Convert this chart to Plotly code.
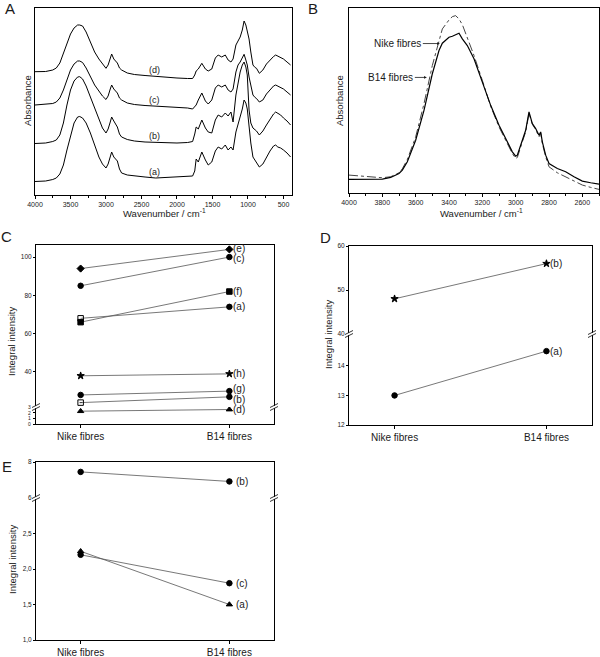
import plotly.graph_objects as go

W, H = 600, 657


def px_x(a):
    return a / W


def px_y(b):
    return 1 - b / H


FONT = "Arial, Liberation Sans, sans-serif"
INK = "#1a1a1a"

# ---------------- Panel A : FTIR spectra (offset), arbitrary absorbance ----------------
wn_A = [4000, 3850, 3750, 3700, 3650, 3600, 3550, 3500, 3450, 3400,
        3370, 3330, 3280, 3220, 3160, 3100, 3050, 3000, 2970, 2940,
        2920, 2890, 2860, 2840, 2810, 2780, 2700, 2600, 2450, 2300,
        2150, 2000, 1850, 1780, 1750, 1730, 1700, 1650, 1600, 1560,
        1510, 1460, 1420, 1370, 1320, 1280, 1240, 1210, 1170, 1140,
        1110, 1080, 1055, 1030, 1010, 985, 960, 930, 900, 880,
        840, 790, 740, 690, 640, 610, 580, 540, 500, 450,
        400]
abs_a = [13.5, 14, 15.5, 17, 21, 30, 45, 60, 72, 78,
         78.5, 77, 72, 62, 50, 38, 31, 27, 31, 38,
         43, 38, 36, 34, 26, 22, 20, 19, 18, 17,
         17.5, 18.5, 18.5, 19, 24, 36, 33, 43, 35, 30,
         33, 44, 48, 46, 50, 45, 48, 45, 63, 70,
         78, 86, 95, 92, 86, 68, 52, 38, 35, 33,
         28, 31, 38, 44, 49, 50, 48, 47, 45, 42,
         38]
abs_b = [51.5, 52, 53.5, 55, 60, 72, 90, 105, 114, 118,
         118.3, 116, 109, 98, 86, 76, 67, 62, 66, 73,
         78, 74, 70, 68, 61, 58, 55.5, 54, 53, 52.5,
         52.5, 52, 52.5, 53.5, 61, 68, 66, 75, 67, 63,
         62, 75, 80, 78, 82, 79, 83, 73, 100, 112,
         123, 130, 133, 128, 120, 85, 72, 67, 65, 64,
         60, 64, 70, 76, 81, 83, 82, 80, 77, 74,
         70]
abs_c = [90, 90.5, 91.5, 93, 97, 105, 116, 125, 131, 134,
         134, 132.5, 127, 118, 110, 104, 99, 95.5, 99, 106,
         110, 106, 104, 102, 97, 95, 92, 90.5, 89.5, 89,
         88.5, 88, 87, 86, 88, 90, 95, 102, 94, 91,
         95, 107, 110, 108, 110, 105, 103, 106, 123, 130,
         133, 137, 140.7, 135, 130, 118, 110, 100, 97.5, 96.5,
         93, 95, 101, 105, 109, 110, 109, 108, 106, 103,
         100]
abs_d = [123.3, 123.5, 125, 127, 132, 142, 153, 161, 167, 170,
         170, 169, 163, 153, 143, 136, 131, 126.7, 130, 137,
         141, 136, 134, 132, 127, 125, 122, 120.5, 119.5, 118.5,
         118, 117, 116.5, 116.5, 120, 124, 126, 131.7, 126, 124,
         126, 137, 140, 138, 140, 135, 133, 136, 150, 154,
         158, 165, 174, 170, 165, 156, 143, 130, 127.5, 126.7,
         121.7, 125, 131, 135, 138.5, 140, 139, 138, 136, 133,
         130]
labels_A = ["(a)", "(b)", "(c)", "(d)"]
label_pos_A = [23, 59, 95, 125]
label_wn_A = 2310

# ---------------- Panel B : OH / CH region ----------------
wn_B = [4000, 3900, 3800, 3750, 3700, 3680, 3650, 3600, 3550, 3500,
        3460, 3440, 3400, 3380, 3360, 3340, 3320, 3290, 3250, 3200,
        3150, 3100, 3050, 3020, 3000, 2990, 2960, 2940, 2920, 2900,
        2880, 2860, 2850, 2840, 2820, 2800, 2750, 2700, 2650, 2600,
        2550, 2500]
abs_nike = [40, 40, 41, 46, 58, 68, 93, 158, 248, 358,
            428, 450, 468, 471, 475, 480, 463, 443, 403, 333,
            263, 203, 153, 123, 110, 113, 158, 188, 243, 208,
            193, 173, 183, 153, 113, 88, 73, 63, 48, 35,
            30, 26]
abs_b14 = [53, 48, 45, 48, 60, 72, 100, 168, 268, 383,
           458, 493, 520, 530, 533, 523, 506, 468, 413, 338,
           260, 198, 148, 118, 103, 106, 153, 183, 238, 206,
           190, 168, 180, 148, 108, 78, 60, 48, 36, 23,
           16, 10]

# ---------------- Panels C, D, E : integral intensities ----------------
categories = ["Nike fibres", "B14 fibres"]

C_names = ["(e)", "(c)", "(f)", "(a)", "(h)", "(g)", "(b)", "(d)"]
C_values = {
    "(e)": [94, 104],
    "(c)": [85, 100],
    "(f)": [66, 82],
    "(a)": [68, 74],
    "(h)": [38, 39],
    "(g)": [28, 30],
    "(b)": [24, 27],
    "(d)": [2.3, 2.6],
}
C_symbols = {
    "(e)": ["diamond", "diamond"],
    "(c)": ["circle", "circle"],
    "(f)": ["square", "square"],
    "(a)": ["square-open", "circle-x"],
    "(h)": ["star", "star"],
    "(g)": ["circle", "circle"],
    "(b)": ["square-open-dot", "circle-x"],
    "(d)": ["triangle-up", "triangle-up"],
}
C_lower = ["(d)"]
C_label_shift = {"(e)": 1, "(c)": -1, "(g)": 3, "(b)": -3}
C_lower_ticks = [0, 1, 2, 3]

D_names = ["(b)", "(a)"]
D_values = {"(b)": [48, 56], "(a)": [13, 14.5]}
D_symbols = {"(b)": "star", "(a)": "circle"}
D_lower = ["(a)"]

E_names = ["(b)", "(c)", "(a)"]
E_values = {"(b)": [7.45, 6.92], "(c)": [2.2, 1.8], "(a)": [2.25, 1.5]}
E_symbols = {"(b)": "circle", "(c)": "circle", "(a)": "triangle-up"}
E_lower = ["(c)", "(a)"]

fig = go.Figure()

# Panel A traces
for ys in [abs_a, abs_b, abs_c, abs_d]:
    fig.add_trace(go.Scatter(x=wn_A, y=ys, mode="lines", xaxis="x", yaxis="y",
                             line=dict(color="black", width=1), showlegend=False,
                             hoverinfo="skip"))

# Panel B traces
fig.add_trace(go.Scatter(x=wn_B, y=abs_b14, mode="lines", xaxis="x2", yaxis="y2",
                         line=dict(color="#444", width=1, dash="dashdot"),
                         showlegend=False))
fig.add_trace(go.Scatter(x=wn_B, y=abs_nike, mode="lines", xaxis="x2", yaxis="y2",
                         line=dict(color="black", width=1.2), showlegend=False))

line_style = dict(color="#555", width=0.8)
annotations = []


def add_series(name, vals, symbols, xa, ya, size=5.5, xshift=4, yshift=0):
    fig.add_trace(go.Scatter(x=categories, y=vals, mode="lines+markers",
                             xaxis=xa, yaxis=ya, line=line_style,
                             marker=dict(symbol=symbols, size=size, color="black",
                                         line=dict(color="black", width=1)),
                             showlegend=False))
    annotations.append(dict(x=categories[1], y=vals[1], xref=xa, yref=ya,
                            text=name, showarrow=False, xanchor="left",
                            xshift=xshift, yshift=yshift,
                            font=dict(size=10, family=FONT, color=INK)))


for n in C_names:
    lower = n in C_lower
    add_series(n, C_values[n], C_symbols[n], "x3" if lower else "x4",
               "y3" if lower else "y4", yshift=C_label_shift.get(n, 0), xshift=2)

for n in D_names:
    lower = n in D_lower
    add_series(n, D_values[n], D_symbols[n], "x5" if lower else "x6",
               "y5" if lower else "y6", xshift=2)

for n in E_names:
    lower = n in E_lower
    add_series(n, E_values[n], E_symbols[n], "x7" if lower else "x8",
               "y7" if lower else "y8", xshift=5)

# Tiny tick labels of the compressed lower segment in panel C
for v in C_lower_ticks:
    annotations.append(dict(x=px_x(33), y=v, xref="paper", yref="y3", text=str(v),
                            showarrow=False, xanchor="right", yanchor="middle",
                            font=dict(size=5, family=FONT, color=INK)))

# Labels on spectra in panel A
for t, yv in zip(labels_A, label_pos_A):
    annotations.append(dict(x=label_wn_A, y=yv, xref="x", yref="y", text=t,
                            showarrow=False, font=dict(size=9, family=FONT, color=INK)))

# Arrowed labels in panel B
annotations.append(dict(x=3455, y=449, xref="x2", yref="y2", text="Nike fibres",
                        showarrow=True, arrowhead=2, arrowsize=0.7, arrowwidth=0.8,
                        arrowcolor=INK, ax=-42, ay=0,
                        font=dict(size=10, family=FONT, color=INK)))
annotations.append(dict(x=3533, y=347, xref="x2", yref="y2", text="B14 fibres",
                        showarrow=True, arrowhead=2, arrowsize=0.7, arrowwidth=0.8,
                        arrowcolor=INK, ax=-36, ay=0,
                        font=dict(size=10, family=FONT, color=INK)))

# Axis titles (positioned in paper space)
def paper_text(text, xp, yp, size, angle=0):
    annotations.append(dict(x=px_x(xp), y=px_y(yp), xref="paper", yref="paper",
                            text=text, showarrow=False, textangle=angle,
                            xanchor="center", yanchor="middle",
                            font=dict(size=size, family=FONT, color=INK)))


paper_text("Absorbance", 27, 101, 9.5, -90)
paper_text("Absorbance", 339, 100, 9.5, -90)
paper_text("Wavenumber / cm<sup>-1</sup>", 164, 213, 9.5)
paper_text("Wavenumber / cm<sup>-1</sup>", 481, 213, 9.5)
paper_text("Integral intensity", 11, 342, 9.5, -90)
paper_text("Integral intensity", 328, 335, 9.5, -90)
paper_text("Integral intensity", 12, 560, 9.5, -90)
for letter, xp, yp in [("A", 10, 8), ("B", 313, 8), ("C", 6, 236),
                       ("D", 325, 237), ("E", 7, 466)]:
    paper_text(letter, xp, yp, 15)

# Break marks for broken axes
shapes = []


def break_marks(xs, yb):
    for xp in xs:
        shapes.append(dict(type="rect", xref="paper", yref="paper",
                           x0=px_x(xp - 4), x1=px_x(xp + 4),
                           y0=px_y(yb + 1.2), y1=px_y(yb - 1.2),
                           fillcolor="white", line=dict(width=0)))
        for off in (-1.5, 1.5):
            shapes.append(dict(type="line", xref="paper", yref="paper",
                               x0=px_x(xp - 4), y0=px_y(yb + off + 2),
                               x1=px_x(xp + 4), y1=px_y(yb + off - 2),
                               line=dict(color="black", width=0.8)))


break_marks([36, 274], 407)
break_marks([349, 592], 334)
break_marks([36, 274], 498)

tickfont_small = dict(size=7, family=FONT, color=INK)
frame = dict(showline=True, linecolor="black", linewidth=1, showgrid=False,
             zeroline=False)


def cat_x(domain, anchor, top=False):
    d = dict(domain=domain, anchor=anchor, type="category", range=[-0.3, 1.3], **frame)
    if top:
        d.update(side="top", showticklabels=False, ticks="")
    else:
        d.update(ticks="outside", ticklen=3, tickcolor="black",
                 tickfont=dict(size=10, family=FONT, color=INK))
    return d


def num_y(domain, anchor, rng, tickvals, ticktext=None, size=6.5, labels=True):
    d = dict(domain=domain, anchor=anchor, range=rng, tickvals=tickvals,
             ticks="outside", ticklen=2, tickcolor="black", mirror=True,
             showticklabels=labels,
             tickfont=dict(size=size, family=FONT, color=INK), **frame)
    if ticktext is not None:
        d["ticktext"] = ticktext
    return d


xC = [px_x(36), px_x(274)]
xD = [px_x(349), px_x(592)]

fig.update_layout(
    width=W, height=H, margin=dict(l=0, r=0, t=0, b=0, autoexpand=False),
    paper_bgcolor="white", plot_bgcolor="white", showlegend=False,
    font=dict(family=FONT, color=INK),
    xaxis=dict(domain=[px_x(35), px_x(292)], anchor="y", range=[4000, 380],
               tick0=0, dtick=500, ticks="outside", ticklen=3, tickcolor="black",
               minor=dict(ticks="outside", ticklen=2, dtick=250, tick0=0, tickcolor="black"),
               tickfont=tickfont_small, mirror=True, **frame),
    yaxis=dict(domain=[px_y(195), px_y(8)], anchor="x", range=[0, 187],
               showticklabels=False, ticks="", mirror=True, **frame),
    xaxis2=dict(domain=[px_x(349), px_x(599)], anchor="y2", range=[4000, 2500],
                tick0=0, dtick=200, ticks="outside", ticklen=3, tickcolor="black",
                minor=dict(ticks="outside", ticklen=2, dtick=100, tick0=0, tickcolor="black"),
                tickfont=tickfont_small, mirror=True, **frame),
    yaxis2=dict(domain=[px_y(192.7), px_y(8)], anchor="x2", range=[0, 556],
                showticklabels=False, ticks="", mirror=True, **frame),
    # Panel C
    xaxis3=cat_x(xC, "y3"),
    yaxis3=num_y([px_y(424), px_y(407)], "x3", [0, 3.05], C_lower_ticks, labels=False),
    xaxis4=cat_x(xC, "y4", top=True),
    yaxis4=num_y([px_y(407), px_y(245)], "x4", [21.7, 106.3], [40, 60, 80, 100]),
    # Panel D
    xaxis5=cat_x(xD, "y5"),
    yaxis5=num_y([px_y(425), px_y(334)], "x5", [12, 15.08], [12, 13, 14]),
    xaxis6=cat_x(xD, "y6", top=True),
    yaxis6=num_y([px_y(334), px_y(246)], "x6", [40, 60], [40, 50, 60]),
    # Panel E
    xaxis7=cat_x(xC, "y7"),
    yaxis7=num_y([px_y(640), px_y(498)], "x7", [1, 3.0], [1, 1.5, 2, 2.5],
                 ["1,0", "1,5", "2,0", "2,5"]),
    xaxis8=cat_x(xC, "y8", top=True),
    yaxis8=num_y([px_y(498), px_y(462)], "x8", [6, 8], [6, 8]),
    annotations=annotations,
    shapes=shapes,
)

fig.write_html("out.html", config=dict(displayModeBar=False),
               post_script="document.body.style.margin='0';document.body.style.overflow='hidden';")
